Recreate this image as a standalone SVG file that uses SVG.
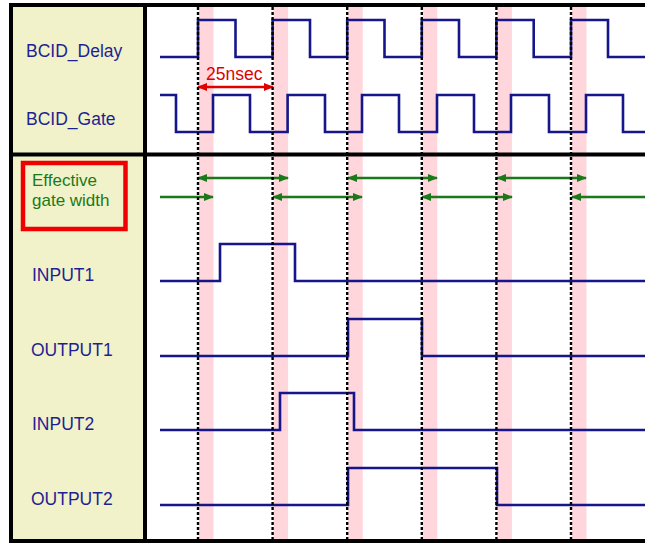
<svg xmlns="http://www.w3.org/2000/svg" width="645" height="547" viewBox="0 0 645 547">
<defs>
<marker id="gh" viewBox="0 0 10 8" refX="9" refY="4" markerWidth="10" markerHeight="8" markerUnits="userSpaceOnUse" orient="auto-start-reverse"><path d="M0,0 L10,4 L0,8 Z" fill="#1a7a1a"/></marker>
<marker id="rh" viewBox="0 0 10 8" refX="9" refY="4" markerWidth="10" markerHeight="8" markerUnits="userSpaceOnUse" orient="auto-start-reverse"><path d="M0,0 L10,4 L0,8 Z" fill="#e00000"/></marker>
</defs>
<style>
.lbl{font-family:"Liberation Sans",Arial,sans-serif;font-size:17.5px;fill:#1f1f94}
.grn{font-family:"Liberation Sans",Arial,sans-serif;font-size:17px;fill:#1a7a1a}
.red{font-family:"Liberation Sans",Arial,sans-serif;font-size:17.5px;fill:#e00000}
.wave{fill:none;stroke:#16168a;stroke-width:2.6;stroke-linejoin:miter}
.band{fill:#ffd6dc}
.dash{stroke:#000;stroke-width:2.4;stroke-dasharray:3 2}
.garr{stroke:#1a7a1a;stroke-width:2.4;fill:none}
</style>
<rect width="645" height="547" fill="#fff"/>
<g id="panel">
<rect x="11" y="5" width="134" height="536" fill="#f1f2c9"/>
</g>
<g id="bands">
<rect class="band" x="199" y="7" width="14.5" height="532"/>
<rect class="band" x="273.6" y="7" width="14.5" height="532"/>
<rect class="band" x="348.2" y="7" width="14.5" height="532"/>
<rect class="band" x="422.8" y="7" width="14.5" height="532"/>
<rect class="band" x="497.4" y="7" width="14.5" height="532"/>
<rect class="band" x="572" y="7" width="14.5" height="532"/>
</g>
<g id="waves">
<path id="bcid_delay" class="wave" d="M160,57 H198 V20 H235.5 V57 H272.6 V20 H310 V57 H347.2 V20 H384.5 V57 H421.8 V20 H459 V57 H496.4 V20 H533.7 V57 H571 V20 H608 V57 H645"/>
<path id="bcid_gate" class="wave" d="M160,95 H176 V132 H213 V95 H250 V132 H287.6 V95 H325 V132 H362 V95 H399 V132 H437 V95 H474 V132 H511 V95 H549 V132 H586 V95 H623 V132 H645"/>
<path id="input1" class="wave" d="M160,281 H220 V244 H295 V281 H645"/>
<path id="output1" class="wave" d="M160,356 H348 V319 H422 V356 H645"/>
<path id="input2" class="wave" d="M160,430 H280 V393 H354 V430 H645"/>
<path id="output2" class="wave" d="M160,505 H348 V468 H497 V505 H645"/>
</g>
<g id="connectors">
<line class="garr" x1="198" y1="178" x2="288" y2="178" marker-start="url(#gh)" marker-end="url(#gh)"/>
<line class="garr" x1="348" y1="178" x2="437" y2="178" marker-start="url(#gh)" marker-end="url(#gh)"/>
<line class="garr" x1="497" y1="178" x2="586" y2="178" marker-start="url(#gh)" marker-end="url(#gh)"/>
<line class="garr" x1="160" y1="197" x2="213" y2="197" marker-end="url(#gh)"/>
<line class="garr" x1="273" y1="197" x2="362" y2="197" marker-start="url(#gh)" marker-end="url(#gh)"/>
<line class="garr" x1="422" y1="197" x2="512" y2="197" marker-start="url(#gh)" marker-end="url(#gh)"/>
<line class="garr" x1="572" y1="197" x2="645" y2="197" marker-start="url(#gh)"/>
<line x1="198" y1="87" x2="273" y2="87" stroke="#e00000" stroke-width="2.6" marker-start="url(#rh)" marker-end="url(#rh)"/>
</g>
<g id="dashes">
<line class="dash" x1="198" y1="7" x2="198" y2="539"/>
<line class="dash" x1="272.6" y1="7" x2="272.6" y2="539"/>
<line class="dash" x1="347.2" y1="7" x2="347.2" y2="539"/>
<line class="dash" x1="421.8" y1="7" x2="421.8" y2="539"/>
<line class="dash" x1="496.4" y1="7" x2="496.4" y2="539"/>
<line class="dash" x1="571" y1="7" x2="571" y2="539"/>
</g>
<g id="frame" fill="none" stroke="#000" stroke-width="4">
<rect x="11" y="5" width="640" height="536"/>
<line x1="145" y1="5" x2="145" y2="541"/>
<line x1="11" y1="154.5" x2="645" y2="154.5"/>
</g>
<g id="labels">
<text class="lbl" x="26" y="57">BCID_Delay</text>
<text class="lbl" x="26" y="125">BCID_Gate</text>
<text class="lbl" x="32" y="281">INPUT1</text>
<text class="lbl" x="31" y="356">OUTPUT1</text>
<text class="lbl" x="32" y="430">INPUT2</text>
<text class="lbl" x="31" y="505">OUTPUT2</text>
<text class="red" x="206" y="80">25nsec</text>
</g>
<g id="effective">
<rect x="23" y="163" width="102.5" height="66" fill="none" stroke="#f00000" stroke-width="4.5"/>
<text class="grn" x="32" y="186">Effective</text>
<text class="grn" x="32" y="206">gate width</text>
</g>
</svg>
